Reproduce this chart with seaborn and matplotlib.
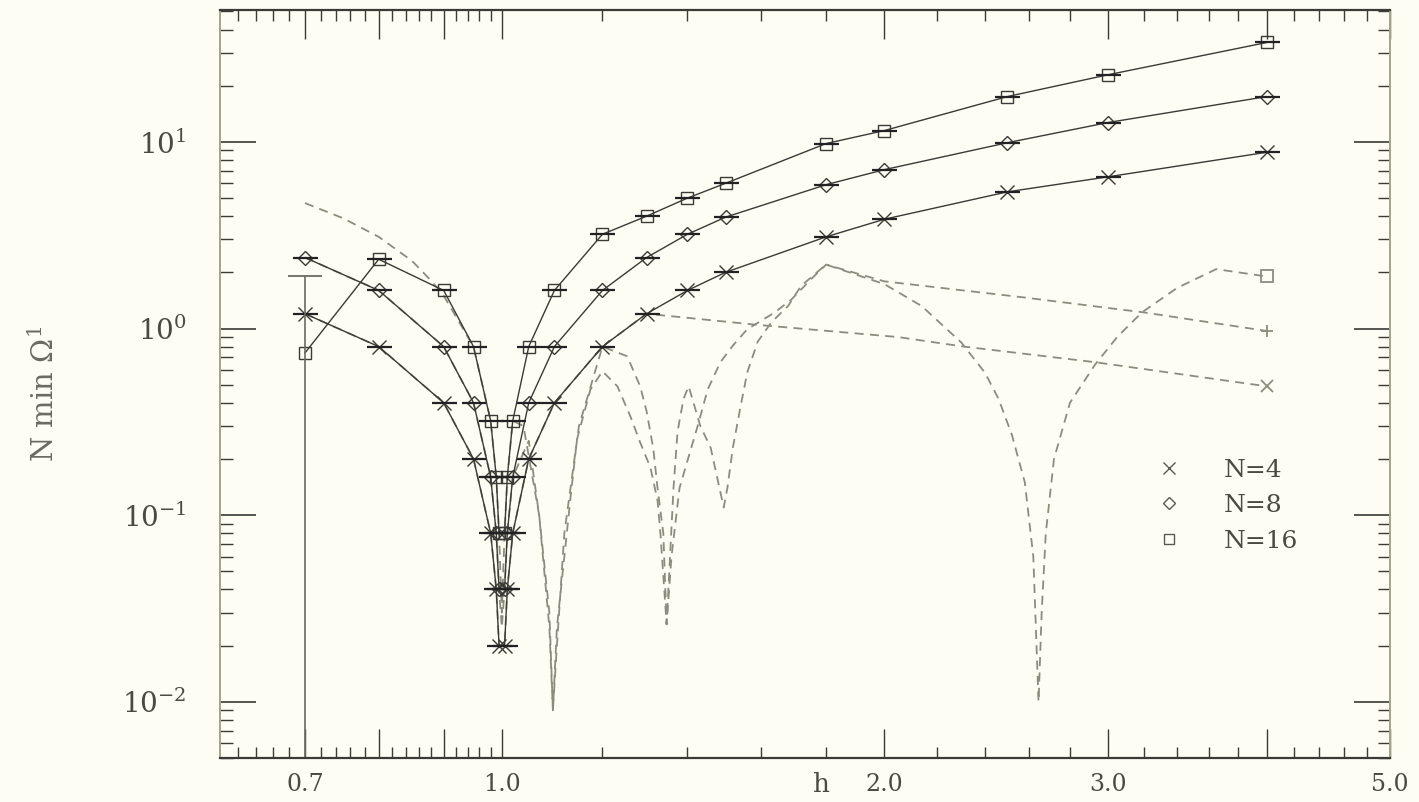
import numpy as np
import pandas as pd
import matplotlib
matplotlib.use('Agg')
import matplotlib.pyplot as plt
from matplotlib.lines import Line2D
from matplotlib.ticker import LogLocator, NullFormatter
import seaborn as sns

sns.set_style('ticks')
plt.rcParams['font.family'] = ['DejaVu Serif']
plt.rcParams['mathtext.fontset'] = 'dejavuserif'

# solid curves: N * min gap vs h
h_pts = [0.7, 0.8, 0.9, 0.95, 0.98, 0.99, 0.995, 1.005, 1.01, 1.02, 1.05, 1.1,
         1.2, 1.3, 1.4, 1.5, 1.8, 2.0, 2.5, 3.0, 4.0]
n4_vals = [1.2, 0.8, 0.4, 0.2, 0.08, 0.04, 0.02, 0.02, 0.04, 0.08, 0.2, 0.4,
           0.8, 1.2, 1.6, 2.0, 3.1, 3.85, 5.4, 6.5, 8.8]
n8_vals = [2.4, 1.6, 0.8, 0.4, 0.16, 0.08, 0.04, 0.04, 0.08, 0.16, 0.4, 0.8,
           1.6, 2.4, 3.2, 3.95, 5.9, 7.1, 9.9, 12.7, 17.5]
n16_vals = [0.74, 2.35, 1.6, 0.8, 0.32, 0.16, 0.08, 0.08, 0.16, 0.32, 0.8, 1.6,
            3.2, 4.0, 5.0, 6.0, 9.8, 11.5, 17.5, 22.9, 34.1]
n16_err_top = 1.9   # upper end of the error bar on the first N=16 point

# dashed curves
d4_h = [0.7, 0.8, 0.9, 0.95, 0.98, 0.99, 0.995, 1.005, 1.01, 1.02, 1.05, 1.1,
        1.2, 1.3, 1.58, 2.05, 2.31, 2.93, 4.0]
d4_v = [1.2, 0.8, 0.4, 0.2, 0.08, 0.04, 0.02, 0.02, 0.04, 0.08, 0.2, 0.4,
        0.8, 1.2, 1.05, 0.9, 0.8, 0.66, 0.49]

d8_h = [0.7, 0.8, 0.9, 0.95, 0.98, 0.99, 0.995, 1.0, 1.005, 1.01, 1.02, 1.05,
        1.07, 1.09, 1.097, 1.105, 1.12, 1.15, 1.2, 1.255, 1.285, 1.30, 1.316,
        1.326, 1.34, 1.348, 1.36, 1.38, 1.426, 1.452, 1.486, 1.52, 1.56, 1.64,
        1.69, 1.76, 1.8, 2.0, 2.57, 3.2, 4.0]
d8_v = [2.4, 1.6, 0.8, 0.4, 0.16, 0.08, 0.04, 0.025, 0.04, 0.08, 0.16, 0.25,
        0.1, 0.03, 0.009, 0.02, 0.08, 0.3, 0.8, 0.71, 0.49, 0.36, 0.226,
        0.14, 0.08, 0.026, 0.06, 0.14, 0.30, 0.47, 0.66, 0.81, 0.99, 1.22,
        1.43, 1.9, 2.2, 1.79, 1.47, 1.22, 0.97]

d16_h = [0.7, 0.75, 0.8, 0.85, 0.88, 0.9, 0.95, 0.98, 0.99, 0.995, 1.0, 1.005,
         1.01, 1.02, 1.04, 1.07, 1.09, 1.097, 1.105, 1.132, 1.146, 1.174, 1.2,
         1.233, 1.262, 1.285, 1.309, 1.326, 1.333, 1.348, 1.365, 1.375, 1.39,
         1.403, 1.433, 1.46, 1.495, 1.505, 1.52, 1.54, 1.56, 1.59, 1.63, 1.68,
         1.72, 1.77, 1.8, 2.0, 2.14, 2.3, 2.4, 2.46, 2.52, 2.58, 2.62, 2.645,
         2.66, 2.68, 2.72, 2.8, 2.93, 3.05, 3.19, 3.4, 3.65, 4.0]
d16_v = [4.7, 3.9, 3.1, 2.3, 1.8, 1.5, 0.8, 0.32, 0.16, 0.08, 0.03, 0.08,
         0.16, 0.32, 0.3, 0.1, 0.025, 0.009, 0.025, 0.12, 0.255, 0.47, 0.59,
         0.49, 0.34, 0.245, 0.18, 0.12, 0.08, 0.026, 0.14, 0.28, 0.42,
         0.49, 0.30, 0.23, 0.11, 0.14, 0.23, 0.37, 0.58, 0.85, 1.08, 1.32,
         1.69, 2.0, 2.2, 1.73, 1.32, 0.84, 0.58, 0.42, 0.27, 0.15, 0.06, 0.01,
         0.03, 0.08, 0.2, 0.4, 0.64, 0.9, 1.22, 1.65, 2.08, 1.9]

labels = ['N=4', 'N=8', 'N=16']
x_major = [0.7, 0.8, 0.9, 1.0, 2.0, 3.0, 4.0, 5.0]
x_major_labels = ['0.7', '', '', '1.0', '2.0', '3.0', '', '5.0']

bg = '#fdfdf3'
solid_col = '#3a3a36'
dash_col = '#8c8c7e'

fig = plt.figure(figsize=(14.19, 8.02), dpi=100, facecolor=bg)
ax = fig.add_axes([0.155, 0.055, 0.8245, 0.9327])
ax.set_facecolor(bg)
ax.set_xscale('log')
ax.set_yscale('log')

# dashed curves first (underneath)
for hh, vv, end_m in [(d4_h, d4_v, 'x'), (d8_h, d8_v, '+'), (d16_h, d16_v, 's')]:
    dd = pd.DataFrame({'h': hh, 'v': vv})
    sns.lineplot(data=dd, x='h', y='v', ax=ax, sort=False, estimator=None,
                 color=dash_col, lw=1.3, linestyle=(0, (5, 3.5)))
    ax.plot(hh[-1:], vv[-1:], linestyle='none', marker=end_m, ms=9,
            mfc='none', mec=dash_col, mew=1.3)

# solid curves
solid = pd.DataFrame({
    'h': h_pts * 3,
    'v': n4_vals + n8_vals + n16_vals,
    'N': sum([[lab] * len(h_pts) for lab in labels], []),
})
markers = {'N=4': ('x', 10), 'N=8': ('D', 7), 'N=16': ('s', 9)}
for lab in labels:
    sub = solid[solid['N'] == lab]
    m, ms = markers[lab]
    sns.lineplot(data=sub, x='h', y='v', ax=ax, sort=False, estimator=None,
                 color=solid_col, lw=1.0, marker=m, markersize=ms,
                 markerfacecolor='none', markeredgecolor=solid_col,
                 markeredgewidth=1.0)
    bars = sub if lab != 'N=16' else sub[sub['h'] > 0.7]
    ax.plot(bars['h'], bars['v'], linestyle='none', marker='_', ms=18,
            mew=1.6, color='#222222')

# error bar on the first N=16 point, reaching down past the axis
ax.errorbar(h_pts[:1], n16_vals[:1],
            yerr=[[n16_vals[0]], [n16_err_top - n16_vals[0]]],
            fmt='none', ecolor='#6a6a60', elinewidth=1.2, capsize=12,
            capthick=1.3)

ax.set_xlim(0.6, 5.0)
ax.set_ylim(0.005, 51)

# ticks
ax.set_xticks(x_major, x_major_labels)
minor_x = [v for v in np.round(np.arange(0.62, 1.0, 0.02), 2) if v not in x_major]
minor_x += [v for v in np.round(np.arange(1.2, 5.0, 0.2), 1) if v not in x_major]
ax.set_xticks(minor_x, minor=True)
ax.xaxis.set_minor_formatter(NullFormatter())
ax.yaxis.set_major_locator(LogLocator(base=10, numticks=10))
ax.yaxis.set_minor_locator(LogLocator(base=10, subs=np.arange(2, 10), numticks=20))
ax.yaxis.set_minor_formatter(NullFormatter())

ax.tick_params(which='both', direction='in', top=True, right=True,
               colors='#3a3a36', labelcolor='#4a4a42')
ax.tick_params(axis='y', which='major', length=26, width=1.2, pad=24,
               labelsize=20)
ax.tick_params(axis='y', which='minor', length=9, width=1.0)
ax.tick_params(axis='x', which='major', length=21, width=1.0, pad=11,
               labelsize=17)
ax.tick_params(axis='x', which='minor', length=8, width=1.0)

for side in ['left', 'right']:
    ax.spines[side].set_color('#a4a48c')
    ax.spines[side].set_linewidth(1.4)
for side in ['top', 'bottom']:
    ax.spines[side].set_color('#3a3a36')
    ax.spines[side].set_linewidth(1.6)

ax.set_xlabel('')
ax.set_ylabel('')
ax.text(0.5145, -0.036, 'h', transform=ax.transAxes, ha='center', va='center',
        fontsize=19, color='#4a4a42')
ax.text(-0.15, 0.487, r'N min $\Omega^1$', transform=ax.transAxes, rotation=90,
        ha='center', va='center', fontsize=21, color='#6a6a60')

handles = [Line2D([], [], linestyle='none', marker='x', ms=8, mec='#5a5a52', mew=1.0),
           Line2D([], [], linestyle='none', marker='D', ms=6, mfc='none', mec='#5a5a52', mew=1.0),
           Line2D([], [], linestyle='none', marker='s', ms=7, mfc='none', mec='#5a5a52', mew=1.0)]
leg = ax.legend(handles, labels, loc='upper left', bbox_to_anchor=(0.783, 0.43),
                frameon=False, fontsize=18, handlelength=0.8, handletextpad=1.8,
                labelspacing=0.5)
for t in leg.get_texts():
    t.set_color('#4a4a42')

fig.savefig('out.png', dpi=100, facecolor=bg)
